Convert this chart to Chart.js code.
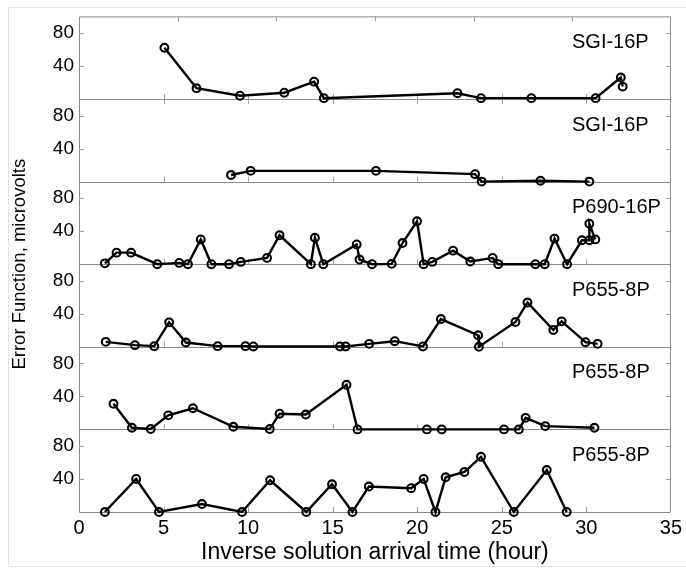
<!DOCTYPE html>
<html>
<head>
<meta charset="utf-8">
<script src="https://cdn.jsdelivr.net/npm/chart.js@4/dist/chart.umd.min.js"></script>
<style>
  html, body { margin: 0; padding: 0; background: #fff; }
  #wrap { position: relative; width: 686px; height: 568px; overflow: hidden; }
  #frame { position: absolute; left: 8px; top: 7px; width: 700px; height: 558px; border: 1px solid #e2e2e2; }
  canvas { position: absolute; left: 0; top: 0; }
</style>
</head>
<body>
<div id="wrap">
  <div id="frame"></div>
  <canvas id="myChart" width="686" height="568"></canvas>
</div>
<script>
// panel names, top to bottom
const panelLabels = ["SGI-16P", "SGI-16P", "P690-16P", "P655-8P", "P655-8P", "P655-8P"];

// arrival time (hour) / error function (microvolts) per panel
const p1x = [5.05, 6.95, 9.52, 12.14, 13.9, 14.48, 22.38, 23.77, 26.75, 30.55, 32.04, 32.15];
const p1y = [62, 13, 4, 7.6, 21, 1, 7, 1, 1, 1, 26, 15];

const p2x = [8.99, 10.15, 17.56, 23.42, 23.81, 27.29, 30.18];
const p2y = [8, 13, 13, 9, 0, 1, 0];

const p3x = [1.53, 2.22, 3.08, 4.63, 5.93, 6.44, 7.2, 7.83, 8.87, 9.57, 11.12, 11.86, 13.71, 13.95, 14.45, 16.42, 16.59, 17.33, 18.49, 19.13, 19.99, 20.38, 20.89, 22.12, 23.14, 24.46, 24.79, 26.99, 27.54, 28.12, 28.86, 29.74, 30.18, 30.18, 30.53];
const p3y = [1, 14, 14, 0, 1.6, 0, 30, 0, 0, 2.8, 7.6, 35, 0, 32, 0, 24, 5.6, 0, 0.4, 25.6, 52, 0, 2.8, 16.4, 3.2, 7.6, 0, 0, 0, 31, 0, 29, 29, 49, 30];

const p4x = [1.58, 3.31, 4.45, 5.33, 6.32, 8.2, 9.84, 10.31, 15.43, 15.77, 17.16, 18.67, 20.34, 21.4, 23.6, 23.65, 25.81, 26.52, 28.05, 28.54, 29.95, 30.67];
const p4y = [6, 2, 0.8, 29.6, 5.2, 0.8, 0.8, 0.4, 0.4, 0.4, 3.6, 6.8, 0.4, 33.6, 14, 0, 30, 53.6, 20.4, 30.8, 5.6, 3.6];

const p5x = [2.04, 3.13, 4.24, 5.28, 6.74, 9.13, 11.28, 11.86, 13.41, 15.82, 16.47, 20.57, 21.45, 25.13, 26.01, 26.41, 27.57, 30.48];
const p5y = [31, 2, 0.4, 17, 25.6, 3.2, 0.4, 19, 18, 54, 0, 0, 0, 0, 0, 14, 4, 2];

const p6x = [1.53, 3.38, 4.73, 7.27, 9.64, 11.3, 13.44, 14.96, 16.17, 17.14, 19.64, 20.38, 21.08, 21.68, 22.79, 23.77, 25.71, 27.66, 28.84];
const p6y = [0, 40, 0, 9.6, 0, 38.4, 0, 33.6, 0, 30.8, 28.8, 40, 0, 42, 48.4, 66.8, 0, 50.8, 0];

const yTicks = [40, 80];
const xTicks = [0, 5, 10, 15, 20, 25, 30, 35];

const panels = [[p1x, p1y], [p2x, p2y], [p3x, p3y], [p4x, p4y], [p5x, p5y], [p6x, p6y]];
const panelRange = 100;
const nPanels = panels.length;
const FONT = 'Arial, "Liberation Sans", sans-serif';
const GRAY = '#8a8a8a';

Chart.defaults.font.family = FONT;
Chart.defaults.color = '#000';

// every panel sits on one y scale, shifted up by its slot
const datasets = panels.map((p, i) => {
    const offset = (nPanels - 1 - i) * panelRange;
    return {
        label: panelLabels[i],
        data: p[0].map((x, j) => ({ x: x, y: p[1][j] + offset })),
        borderColor: '#000',
        borderWidth: 2.4,
        pointRadius: 3.9,
        pointBorderWidth: 2.1,
        pointBorderColor: '#000',
        pointBackgroundColor: 'rgba(0,0,0,0)',
        pointStyle: 'circle',
        tension: 0,
        clip: false
    };
});

let allYTicks = [];
for (let i = 0; i < nPanels; i++) {
    yTicks.forEach(t => allYTicks.push(i * panelRange + t));
}

const panelFrame = {
    id: 'panelFrame',
    beforeDatasetsDraw(chart) {
        const { ctx, chartArea } = chart;
        const xs = chart.scales.x, ys = chart.scales.y;
        const L = chartArea.left, R = chartArea.right;
        const tl = 5;
        ctx.save();
        ctx.strokeStyle = GRAY;
        ctx.lineWidth = 1;
        ctx.beginPath();
        ctx.rect(L + 0.5, chartArea.top + 0.5, R - L - 1, chartArea.bottom - chartArea.top);
        for (let i = 1; i < nPanels; i++) {
            const y = Math.round(ys.getPixelForValue(i * panelRange)) + 0.5;
            ctx.moveTo(L, y);
            ctx.lineTo(R, y);
        }
        ctx.stroke();

        ctx.strokeStyle = '#a0a0a0';
        ctx.beginPath();
        allYTicks.forEach(v => {
            const y = Math.round(ys.getPixelForValue(v)) + 0.5;
            ctx.moveTo(L, y); ctx.lineTo(L + tl, y);
            ctx.moveTo(R - tl, y); ctx.lineTo(R, y);
        });
        for (let i = 0; i < nPanels; i++) {
            const yb = ys.getPixelForValue(i * panelRange);
            xTicks.slice(1, -1).forEach(v => {
                const x = Math.round(xs.getPixelForValue(v)) + 0.5;
                ctx.moveTo(x, yb); ctx.lineTo(x, yb - tl);
            });
        }
        // top edges
        const y1 = ys.getPixelForValue(nPanels * panelRange);
        for (let k = 1; k < 6; k++) {
            const x = Math.round(L + (R - L) * k / 6) + 0.5;
            ctx.moveTo(x, y1); ctx.lineTo(x, y1 + tl);
        }
        const y2 = ys.getPixelForValue((nPanels - 1) * panelRange);
        xTicks.slice(1, -1).forEach(v => {
            const x = Math.round(xs.getPixelForValue(v)) + 0.5;
            ctx.moveTo(x, y2); ctx.lineTo(x, y2 + tl);
        });
        ctx.stroke();
        ctx.restore();
    },
    afterDatasetsDraw(chart) {
        const { ctx } = chart;
        const ys = chart.scales.y;
        ctx.save();
        ctx.fillStyle = '#000';
        ctx.font = '20px ' + FONT;
        ctx.textAlign = 'left';
        ctx.textBaseline = 'middle';
        panelLabels.forEach((lab, i) => {
            const top = ys.getPixelForValue((nPanels - i) * panelRange);
            ctx.fillText(lab, 572, top + 26);
        });
        ctx.restore();
    }
};

new Chart(document.getElementById('myChart').getContext('2d'), {
    type: 'line',
    data: { datasets: datasets },
    options: {
        responsive: false,
        animation: false,
        events: [],
        layout: { padding: { top: 12, right: 14, left: 0, bottom: 0 } },
        plugins: { legend: { display: false }, tooltip: { enabled: false } },
        scales: {
            x: {
                type: 'linear',
                min: 0,
                max: 35,
                afterBuildTicks: s => { s.ticks = xTicks.map(v => ({ value: v })); },
                afterFit: s => { s.height = 56; },
                grid: { display: false, drawTicks: false, tickLength: 0 },
                border: { display: false },
                ticks: { font: { size: 20 }, padding: 4, maxRotation: 0 },
                title: {
                    display: true,
                    text: 'Inverse solution arrival time (hour)',
                    font: { size: 23 },
                    padding: { top: 0, bottom: 2 }
                }
            },
            y: {
                type: 'linear',
                min: 0,
                max: nPanels * panelRange,
                afterBuildTicks: s => { s.ticks = allYTicks.map(v => ({ value: v })); },
                afterFit: s => { s.width = 79; },
                grid: { display: false, drawTicks: false, tickLength: 0 },
                border: { display: false },
                ticks: { font: { size: 19 }, padding: 5, callback: v => v % panelRange },
                title: {
                    display: true,
                    text: 'Error Function, microvolts',
                    font: { size: 18.5 },
                    padding: { top: 9, bottom: 0 }
                }
            }
        }
    },
    plugins: [panelFrame]
});
</script>
</body>
</html>
